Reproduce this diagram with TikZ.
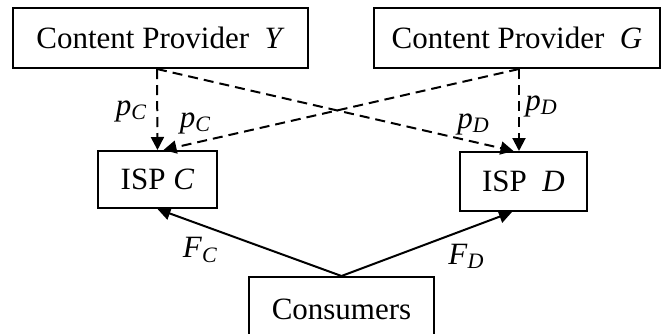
\documentclass[tikz,border=0pt]{standalone}
\usepackage{fontspec}
\setmainfont{Liberation Serif}
\usetikzlibrary{arrows.meta}
\newcommand{\lbl}[2]{\textit{#1}\raisebox{-0.3ex}{\fontsize{22}{24}\selectfont\textit{#2}}}
\begin{document}
\begin{tikzpicture}[x=1pt,y=-1pt,
  box/.style={draw,line width=2pt,inner sep=0pt,font=\fontsize{31}{34}\selectfont},
  lab/.style={inner sep=0pt,font=\fontsize{31}{34}\selectfont},
  dsh/.style={line width=2pt,dash pattern=on 10pt off 6pt,-{Triangle[length=13pt,width=13pt]}},
  sol/.style={line width=2pt,-{Triangle[length=13pt,width=13pt]}}]
\useasboundingbox (0,0) rectangle (662,333);
\node[box,minimum width=295pt,minimum height=60pt] (Y) at (160.5,38) {Content Provider\ \ \textit{Y}};
\node[box,minimum width=286pt,minimum height=60pt] (G) at (517,38) {Content Provider\ \ \textit{G}};
\node[box,minimum width=119pt,minimum height=57pt] (C) at (157.5,179.5) {ISP \textit{C}};
\node[box,minimum width=127pt,minimum height=59pt] (D) at (523.5,181.5) {ISP\ \ \textit{D}};
\node[box,minimum width=185pt,minimum height=64pt] (U) at (341.5,309) {Consumers};
\coordinate (ys) at ([xshift=-3.5pt]Y.south);
\coordinate (gs) at ([xshift=2pt]G.south);
\draw[dsh] (ys) -- (C.north);
\draw[dsh] (ys) -- ([xshift=-10pt]D.north);
\draw[dsh] (gs) -- ([xshift=-4.5pt]D.north);
\draw[dsh] (gs) -- ([xshift=6pt]C.north);
\draw[sol] (U.north) -- (C.south);
\draw[sol] (U.north) -- ([xshift=-11.5pt]D.south);
\node[lab] (l1) at (131,111) {\lbl{p}{C}};
\node[lab] (l2) at (195,123) {\lbl{p}{C}};
\node[lab] (l3) at (473,124) {\lbl{p}{D}};
\node[lab] (l4) at (541,106) {\lbl{p}{D}};
\node[lab] (l5) at (200,250) {\lbl{F}{C}};
\node[lab] (l6) at (466,256) {\lbl{F}{D}};
\end{tikzpicture}
\end{document}
